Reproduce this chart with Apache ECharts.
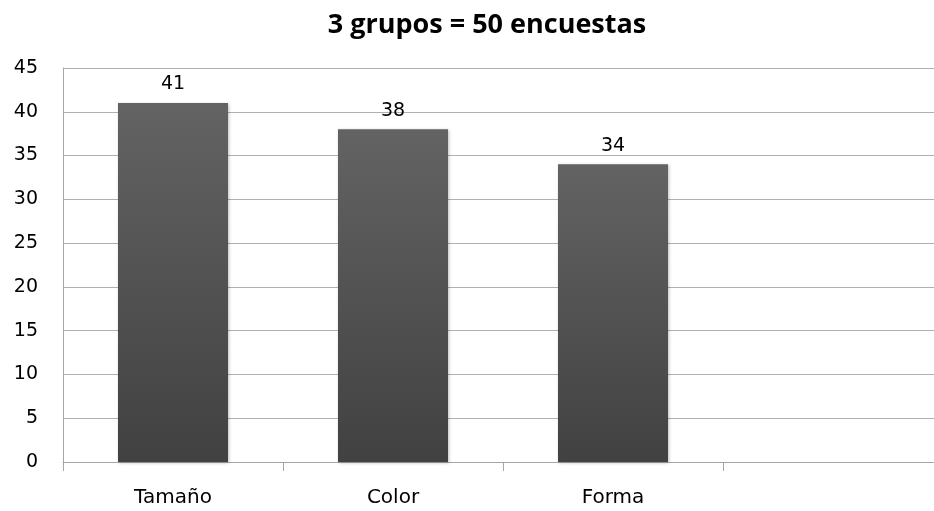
<!DOCTYPE html>
<html>
<head>
<meta charset="utf-8">
<script src="https://cdn.jsdelivr.net/npm/echarts@6/dist/echarts.min.js"></script>
<style>
  html, body { margin: 0; padding: 0; background: #fff; overflow: hidden; }
  /* the plot runs a little past the right edge in the original */
  #chart { width: 943px; height: 511px; }
</style>
</head>
<body>
<div id="chart"></div>
<script>
// categories (the fourth slot is empty in the original)
const categories = ['Tamaño', 'Color', 'Forma', '']
const encuestas = [41, 38, 34, null]
const yTicks = [0, 5, 10, 15, 20, 25, 30, 35, 40, 45]

const font = '"DejaVu Sans", "Open Sans", sans-serif'
let myChart = echarts.init(document.getElementById('chart'), null, { renderer: 'canvas' })
let option = {
  animation: false,
  title: {
    text: '3 grupos = 50 encuestas',
    left: 482,
    textAlign: 'center',
    top: 7,
    textStyle: { fontFamily: '"Open Sans", sans-serif', fontSize: 27, fontWeight: 'bold', color: '#000' }
  },
  grid: { left: 63, right: 0, top: 68, bottom: 49, containLabel: false },
  xAxis: {
    type: 'category',
    data: categories,
    axisLine: { lineStyle: { color: '#a6a6a6', width: 1 } },
    axisTick: { show: true, length: 9, lineStyle: { color: '#a6a6a6' } },
    axisLabel: { fontFamily: font, fontSize: 20, color: '#000', margin: 26 }
  },
  yAxis: {
    type: 'value',
    min: yTicks[0],
    max: yTicks[yTicks.length - 1],
    interval: 5,
    axisLine: { show: true, lineStyle: { color: '#a6a6a6' } },
    axisTick: { show: false },
    splitLine: { lineStyle: { color: '#b0b0b0', width: 1 } },
    axisLabel: { fontFamily: font, fontSize: 19, color: '#000', margin: 25 }
  },
  series: [
    {
      type: 'bar',
      data: encuestas,
      barWidth: '50%',
      itemStyle: {
        color: new echarts.graphic.LinearGradient(0, 0, 0, 1, [
          { offset: 0, color: '#636363' },
          { offset: 1, color: '#414141' }
        ]),
        shadowColor: 'rgba(0,0,0,0.25)',
        shadowBlur: 3,
        shadowOffsetX: 1,
        shadowOffsetY: 1
      },
      label: {
        show: true,
        position: 'top',
        distance: 9,
        fontFamily: font,
        fontSize: 19,
        color: '#000'
      }
    }
  ]
}
myChart.setOption(option)
</script>
</body>
</html>
